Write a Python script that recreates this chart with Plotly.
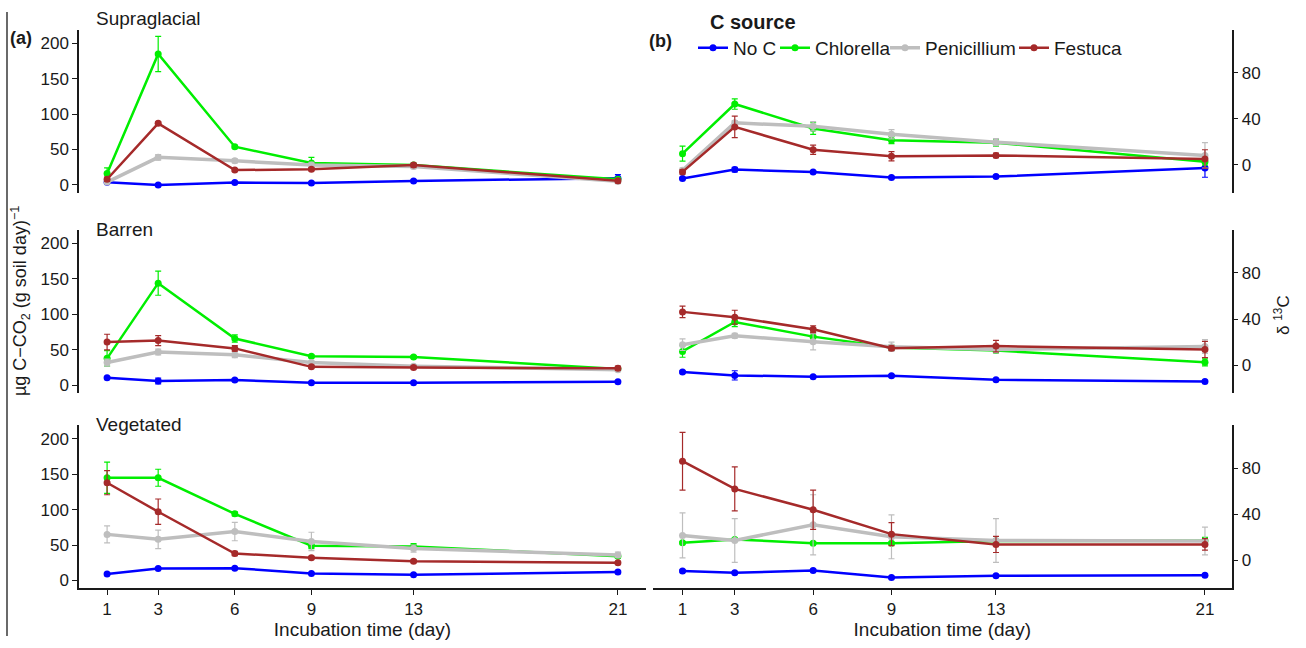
import plotly.graph_objects as go
from plotly.subplots import make_subplots

days = [1, 3, 6, 9, 13, 21]
sources = ["No C", "Chlorella", "Penicillium", "Festuca"]
colors = ["#0000FF", "#00EE00", "#BEBEBE", "#A52A2A"]
panels = ["Supraglacial", "Barren", "Vegetated"]

# CO2 respiration (left column), ug C-CO2 (g soil day)^-1
sup_noc = [3.8, 0.0, 3.3, 2.8, 5.7, 9.5]
sup_chl = [16, 185, 54, 31, 28, 8]
sup_pen = [4, 39, 34, 28, 26, 5]
sup_fes = [8, 87, 21, 22, 28, 6]
sup_noc_se = [1, 1, 1, 1, 1, 5]
sup_chl_se = [8, 25, 2, 8, 2, 2]
sup_pen_se = [2, 4, 3, 4, 3, 2]
sup_fes_se = [3, 2, 2, 2, 3, 3]

bar_noc = [10.5, 6, 7.5, 3.5, 3.5, 5]
bar_chl = [38, 144, 66, 41, 40, 23]
bar_pen = [32, 47, 43, 32, 27, 22]
bar_fes = [61, 63, 52, 26, 25, 24]
bar_noc_se = [1, 4, 2, 1, 1, 1]
bar_chl_se = [11, 17, 5, 2, 2, 2]
bar_pen_se = [5, 4, 4, 2, 2, 2]
bar_fes_se = [11, 7, 4, 2, 2, 3]

veg_noc = [8.9, 16.8, 17.3, 9.8, 7.9, 11.7]
veg_chl = [145, 145, 94, 49, 48, 34]
veg_pen = [65, 58, 69, 55, 45, 36]
veg_fes = [138, 97, 38, 32, 27, 25]
veg_noc_se = [1, 1, 1, 1, 1, 1]
veg_chl_se = [22, 12, 3, 4, 4, 3]
veg_pen_se = [12, 13, 13, 13, 5, 4]
veg_fes_se = [17, 18, 3, 2, 2, 2]

# delta 13C (right column)
d_sup_noc = [-11.7, -4, -6, -10.8, -10, -2.6]
d_sup_chl = [9.8, 52.8, 31.6, 21.5, 19.3, 2.9]
d_sup_pen = [-4.6, 36.5, 33.5, 26.7, 19.8, 8.3]
d_sup_fes = [-6, 33, 13.2, 7.5, 8.3, 5.2]
d_sup_noc_se = [1, 2, 1, 1, 1, 8]
d_sup_chl_se = [6.5, 4.5, 5, 3, 3, 3]
d_sup_pen_se = [2, 2, 4, 4, 3, 11]
d_sup_fes_se = [2, 9.3, 4, 4, 2, 8]

d_bar_noc = [-5.8, -8.7, -9.9, -9, -12.5, -14]
d_bar_chl = [12, 37.5, 24.8, 15.4, 12.8, 2.6]
d_bar_pen = [17.8, 25.6, 20.4, 16, 13.7, 16.3]
d_bar_fes = [46.2, 41.6, 31.2, 14.8, 16.6, 13.7]
d_bar_noc_se = [1, 4, 1, 1, 1, 1]
d_bar_chl_se = [5, 4, 4, 2, 2, 3]
d_bar_pen_se = [5, 2, 7, 4, 3, 6]
d_bar_fes_se = [5, 6, 3, 2, 5, 7]

d_veg_noc = [-9.2, -10.6, -8.7, -14.7, -13.2, -12.7]
d_veg_chl = [15.3, 18.2, 15, 15, 16.8, 17]
d_veg_pen = [21.7, 17.3, 30.9, 20.5, 17.3, 16.8]
d_veg_fes = [86, 62, 43.9, 22.8, 13.9, 13.9]
d_veg_noc_se = [1, 1, 1, 1, 1, 1]
d_veg_chl_se = [1, 1, 1, 1, 1, 3]
d_veg_pen_se = [19.5, 19, 26, 19, 19, 12]
d_veg_fes_se = [25, 19, 17, 10, 7, 5]

co2 = [
    ([sup_noc, sup_chl, sup_pen, sup_fes], [sup_noc_se, sup_chl_se, sup_pen_se, sup_fes_se]),
    ([bar_noc, bar_chl, bar_pen, bar_fes], [bar_noc_se, bar_chl_se, bar_pen_se, bar_fes_se]),
    ([veg_noc, veg_chl, veg_pen, veg_fes], [veg_noc_se, veg_chl_se, veg_pen_se, veg_fes_se]),
]
d13 = [
    ([d_sup_noc, d_sup_chl, d_sup_pen, d_sup_fes], [d_sup_noc_se, d_sup_chl_se, d_sup_pen_se, d_sup_fes_se]),
    ([d_bar_noc, d_bar_chl, d_bar_pen, d_bar_fes], [d_bar_noc_se, d_bar_chl_se, d_bar_pen_se, d_bar_fes_se]),
    ([d_veg_noc, d_veg_chl, d_veg_pen, d_veg_fes], [d_veg_noc_se, d_veg_chl_se, d_veg_pen_se, d_veg_fes_se]),
]

W, H = 1306, 648
FONT = "Liberation Sans, Arial, sans-serif"
INK = "#1a1a1a"
widths = [2.5, 2.5, 3.5, 2.5]
legend_ids = ["legend", "legend2", "legend3", "legend4"]
legend_x_px = [693, 775, 885, 1014]

fig = make_subplots(rows=3, cols=2)

for r in range(3):
    for c, block in enumerate([co2, d13]):
        vals, ses = block[r]
        for i, src in enumerate(sources):
            fig.add_trace(go.Scatter(
                x=days, y=vals[i], mode="lines+markers", name=src,
                legendgroup=src, showlegend=(r == 0 and c == 1),
                legend=legend_ids[i],
                line=dict(color=colors[i], width=widths[i]),
                marker=dict(color=colors[i], size=7),
                error_y=dict(type="data", array=ses[i], visible=True,
                             color=colors[i], thickness=1.2, width=3),
            ), row=r + 1, col=c + 1)

# pixel geometry -> paper domains
def px_x(a, b):
    return [a / W, b / W]

def px_y(top, bottom):
    return [1 - bottom / H, 1 - top / H]

rows_px = [(30, 193.3), (230.7, 394.3), (426.7, 590)]
left_px = (79, 646)
right_px = (653, 1231.6)

axis_common = dict(showgrid=False, zeroline=False, linecolor=INK, linewidth=1.5,
                   tickcolor=INK, tickwidth=1.3, ticklen=5,
                   tickfont=dict(family=FONT, size=17, color=INK))

for r in range(3):
    top, bot = rows_px[r]
    for c in range(2):
        idx = r * 2 + c + 1
        xa = "xaxis" if idx == 1 else f"xaxis{idx}"
        ya = "yaxis" if idx == 1 else f"yaxis{idx}"
        bottom_row = (r == 2)
        xd = px_x(*left_px) if c == 0 else px_x(*right_px)
        xr = [-0.1, 22.1] if c == 0 else [-0.13, 22.02]
        fig.layout[xa].update(
            domain=xd, range=xr, tickvals=days, ticktext=[str(d) for d in days],
            showline=bottom_row, ticks="outside" if bottom_row else "",
            showticklabels=bottom_row, **axis_common)
        if bottom_row:
            fig.layout[xa].update(title=dict(text="Incubation time (day)",
                                             font=dict(family=FONT, size=19, color=INK),
                                             standoff=4))
        if c == 0:
            fig.layout[ya].update(domain=px_y(top, bot), range=[-11, 219],
                                  tickvals=[0, 50, 100, 150, 200], showline=True,
                                  ticks="outside", **axis_common)
        else:
            fig.layout[ya].update(domain=px_y(top, bot), range=[-24, 117],
                                  tickvals=[0, 40, 80], side="right", showline=True,
                                  ticks="outside", **axis_common)

annotations = []
title_y = [18.5, 230, 426]
for r, name in enumerate(panels):
    annotations.append(dict(text=name, x=94 / W, y=1 - title_y[r] / H, xref="paper", yref="paper",
                            xanchor="left", yanchor="middle", showarrow=False,
                            font=dict(family=FONT, size=19, color=INK)))
annotations.append(dict(text="<b>(a)</b>", x=8 / W, y=1 - 38 / H, xref="paper", yref="paper",
                        xanchor="left", yanchor="middle", showarrow=False,
                        font=dict(family=FONT, size=18, color=INK)))
annotations.append(dict(text="<b>(b)</b>", x=647 / W, y=1 - 41 / H, xref="paper", yref="paper",
                        xanchor="left", yanchor="middle", showarrow=False,
                        font=dict(family=FONT, size=18, color=INK)))
annotations.append(dict(text="<b>C source</b>", x=708 / W, y=1 - 22 / H, xref="paper", yref="paper",
                        xanchor="left", yanchor="middle", showarrow=False,
                        font=dict(family=FONT, size=20, color=INK)))
annotations.append(dict(text="µg C−CO<sub>2</sub> (g soil day)<sup>−1</sup>", x=20 / W, y=1 - 302 / H,
                        xref="paper", yref="paper", xanchor="center", yanchor="middle",
                        textangle=-90, showarrow=False,
                        font=dict(family=FONT, size=18, color=INK)))
annotations.append(dict(text="δ <sup>13</sup>C", x=1282 / W, y=1 - 316 / H,
                        xref="paper", yref="paper", xanchor="center", yanchor="middle",
                        textangle=-90, showarrow=False,
                        font=dict(family=FONT, size=17, color=INK)))

legend_layout = {}
for lid, lx in zip(legend_ids, legend_x_px):
    legend_layout[lid] = dict(orientation="h", x=lx / W, y=1 - 48 / H,
                              xanchor="left", yanchor="middle",
                              itemwidth=30, bgcolor="rgba(0,0,0,0)",
                              font=dict(family=FONT, size=19, color=INK))

fig.update_layout(
    width=W, height=H, margin=dict(l=0, r=0, t=0, b=0),
    paper_bgcolor="white", plot_bgcolor="white",
    font=dict(family=FONT, size=17, color=INK),
    annotations=annotations,
    shapes=[dict(type="line", xref="paper", yref="paper", x0=7 / W, x1=7 / W,
                 y0=1 - 638 / H, y1=1 - 12 / H, line=dict(color=INK, width=1.3))],
    **legend_layout,
)

fig.write_html("out.html", config={"displayModeBar": False},
               post_script="document.body.style.margin='0';document.body.style.padding='0';")
